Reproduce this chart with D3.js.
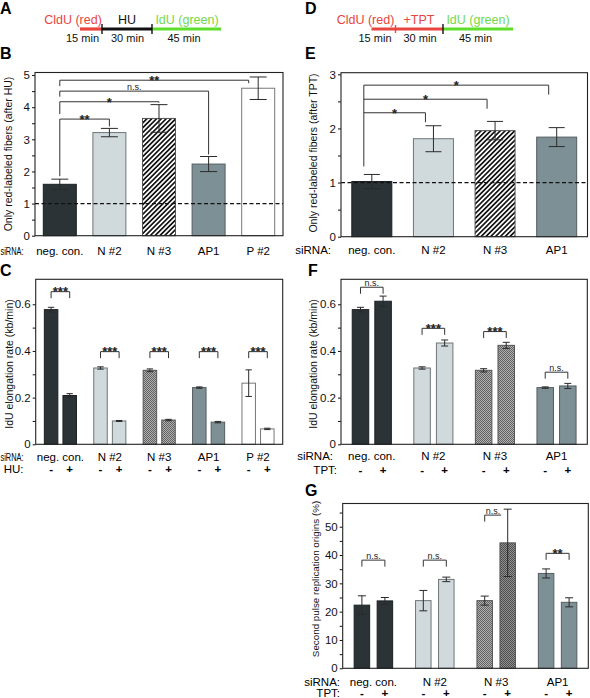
<!DOCTYPE html>
<html><head><meta charset="utf-8">
<script src="https://cdn.jsdelivr.net/npm/d3@7"></script>
<style>body{margin:0;background:#fff} text{font-family:"Liberation Sans",Arial,sans-serif}</style>
</head><body><svg id="c" width="590" height="698"></svg>
<script>
// ---------------- data ----------------
const catsLeft = ["neg. con.","N #2","N #3","AP1","P #2"];
const catsRight = ["neg. con.","N #2","N #3","AP1"];
const treat = ["-","+"];

// B: only red-labeled fibers after HU
const valB = [1.60, 3.21, 3.65, 2.23, 4.59];
const errB = [0.16, 0.13, 0.43, 0.235, 0.35];
const sigB = [
  {to:"N #2", level:3.63, label:"**"},
  {to:"N #3", level:4.17, label:"*"},
  {to:"AP1",  level:4.50, label:"n.s."},
  {to:"P #2", level:4.84, label:"**"}
];
const ticksB = [0,1,2,3,4,5];
const minorB = [0.5,1.5,2.5,3.5,4.5];

// E: only red-labeled fibers after TPT
const valE = [1.02, 1.81, 1.96, 1.84];
const errE = [0.13, 0.24, 0.17, 0.175];
const sigE = [
  {to:"N #2", level:2.29, label:"*"},
  {to:"N #3", level:2.54, label:"*"},
  {to:"AP1",  level:2.80, label:"*"}
];
const ticksE = [0,1,2,3];
const minorE = [0.5,1.5,2.5];

// C: IdU elongation rate, -/+ HU
const minusC = [0.577, 0.327, 0.317, 0.243, 0.262];
const minusErrC = [0.010, 0.005, 0.006, 0.003, 0.057];
const plusC = [0.209, 0.100, 0.104, 0.095, 0.066];
const plusErrC = [0.008, 0.002, 0.003, 0.003, 0.003];
const sigLevelC = [0.654, 0.397, 0.397, 0.397, 0.397];
const sigLabelC = ["***","***","***","***","***"];

// F: IdU elongation rate, -/+ TPT
const minusF = [0.577, 0.327, 0.317, 0.243];
const minusErrF = [0.010, 0.005, 0.007, 0.003];
const plusF = [0.613, 0.434, 0.424, 0.250];
const plusErrF = [0.022, 0.013, 0.013, 0.011];
const sigLevelF = [0.673, 0.497, 0.483, 0.309];
const sigLabelF = ["n.s.","***","***","n.s."];
const ticksRate = [0,0.2,0.4,0.6];
const minorRate = [0.1,0.3,0.5];

// G: second pulse replication origins (%)
const minusG = [22.3, 23.9, 23.9, 33.5];
const minusErrG = [3.3, 3.6, 1.6, 1.6];
const plusG = [23.8, 31.4, 44.3, 23.3];
const plusErrG = [1.2, 0.8, 11.9, 1.6];
const sigLevelG = [38.2, 38.2, 54.1, 40.6];
const sigLabelG = ["n.s.","n.s.","n.s.","**"];
const ticksG = [0,10,20,30,40,50];
const minorG = [5,15,25,35,45,55];

// ---------------- styles ----------------
const FONT = '"Liberation Sans", Arial, sans-serif';
const svg = d3.select("#c");
const defs = svg.append("defs");
const hp = defs.append("pattern").attr("id","hatch").attr("patternUnits","userSpaceOnUse")
  .attr("width",3.4).attr("height",3.4).attr("patternTransform","rotate(45)");
hp.append("rect").attr("width",3.4).attr("height",3.4).attr("fill","#fff");
hp.append("rect").attr("width",1.7).attr("height",3.4).attr("fill","#151515");
function check(id,a,b){
  const p = defs.append("pattern").attr("id",id).attr("patternUnits","userSpaceOnUse").attr("width",2).attr("height",2);
  p.append("rect").attr("width",2).attr("height",2).attr("fill",b);
  p.append("rect").attr("width",1).attr("height",1).attr("fill",a);
  p.append("rect").attr("x",1).attr("y",1).attr("width",1).attr("height",1).attr("fill",a);
}
check("check","#626262","#b0b0b0");
check("checkDark","#4e4e4e","#909090");

const fillSolid = {"neg. con.":"#2b3337","N #2":"#d0dadd","N #3":"url(#hatch)","AP1":"#7d9096","P #2":"#ffffff"};
const strokeCol = {"neg. con.":"#1a1f22","N #2":"#6f7577","N #3":"#555","AP1":"#555d60","P #2":"#777"};
function fillFine(c, t, dark){ if(c==="N #3") return (dark && t==="+") ? "url(#checkDark)" : "url(#check)"; return fillSolid[c]; }

// ---------------- helpers ----------------
function letter(t,x,y){ svg.append("text").attr("x",x).attr("y",y).attr("font-size",16).attr("font-weight","bold").attr("font-family",FONT).text(t); }

function yTitle(t,x,y,fs){
  svg.append("text").attr("transform",`translate(${x},${y}) rotate(-90)`).attr("text-anchor","middle")
    .attr("font-size",fs).attr("font-family",FONT).attr("fill","#111").text(t);
}

function frame(x0,x1,y,ticks,minor,fmt){
  const ax = svg.append("g").attr("transform",`translate(${x0},0)`)
    .call(d3.axisLeft(y).tickValues(ticks).tickSize(3).tickPadding(2).tickFormat(fmt));
  ax.select(".domain").remove();
  ax.attr("font-family",FONT).attr("font-size",11.5).attr("color","#111");
  const mx = svg.append("g").attr("transform",`translate(${x0},0)`)
    .call(d3.axisLeft(y).tickValues(minor).tickSize(3).tickFormat(""));
  mx.select(".domain").remove(); mx.attr("color","#111");
  const [r0,r1] = y.range();
  svg.append("rect").attr("x",x0).attr("y",r1).attr("width",x1-x0).attr("height",r0-r1)
    .attr("fill","none").attr("stroke","#222").attr("stroke-width",1.1);
}

function errBar(x,yS,v,e,cap){
  const g = svg.append("g").attr("stroke","#2a2a2a").attr("stroke-width",1);
  g.append("line").attr("x1",x).attr("x2",x).attr("y1",yS(v+e)).attr("y2",yS(v-e));
  g.append("line").attr("x1",x-cap).attr("x2",x+cap).attr("y1",yS(v+e)).attr("y2",yS(v+e));
  g.append("line").attr("x1",x-cap).attr("x2",x+cap).attr("y1",yS(v-e)).attr("y2",yS(v-e));
}

function sigText(x,y,label){
  const star = label.indexOf("*")>=0;
  svg.append("text").attr("x",x).attr("y", star ? y+4.8 : y-1.5).attr("text-anchor","middle")
    .attr("font-family",FONT).attr("font-size", star?13:9).attr("font-weight", star?"bold":"normal")
    .attr("fill","#222").text(label);
}

function line(x1,y1,x2,y2){
  svg.append("line").attr("x1",x1).attr("y1",y1).attr("x2",x2).attr("y2",y2)
    .attr("stroke","#333").attr("stroke-width",1);
}

function rowLabel(label,x,y){
  const t = svg.append("text").attr("x",x).attr("y",y).attr("text-anchor","end").attr("font-size",11.5)
    .attr("font-family",FONT).text(label);
  const w = t.node().getComputedTextLength();
  if (x - w < 0.5) t.attr("textLength", x-0.5).attr("lengthAdjust","spacingAndGlyphs");
}
function catRow(cats,x,y,label,labelX){
  rowLabel(label,labelX,y);
  svg.append("g").selectAll("text").data(cats).join("text")
    .attr("x",d=>x(d)).attr("y",y).attr("text-anchor","middle").attr("font-size",11.5)
    .attr("font-family",FONT).text(d=>d);
}
function pmRow(cats,x,sub,y,label,labelX){
  rowLabel(label,labelX,y);
  const pairs = cats.flatMap(c=>treat.map(t=>({c,t})));
  svg.append("g").selectAll("text").data(pairs).join("text")
    .attr("x",d=>x(d.c)+sub(d.t)+sub.bandwidth()/2).attr("y",y).attr("text-anchor","middle")
    .attr("font-size",11.5).attr("font-weight","bold").attr("font-family",FONT).text(d=>d.t);
}

// ---------------- headers A / D ----------------
const RED="#e8453e", GREEN="#5ede2a", GREENT="#72d94a";
function header(segs, ticks, labels, times){
  segs.forEach(s=>svg.append("line").attr("x1",s[0]).attr("x2",s[1]).attr("y1",29).attr("y2",29)
    .attr("stroke",s[2]).attr("stroke-width",3.2));
  ticks.forEach(t=>svg.append("line").attr("x1",t[0]).attr("x2",t[0]).attr("y1",t[1]).attr("y2",t[2])
    .attr("stroke",t[3]).attr("stroke-width",1.4));
  labels.forEach(l=>svg.append("text").attr("x",l[0]).attr("y",24).attr("text-anchor","middle")
    .attr("font-size",12.5).attr("font-family",FONT).attr("fill",l[2]).text(l[1]));
  times.forEach(l=>svg.append("text").attr("x",l[0]).attr("y",41.5).attr("text-anchor","middle")
    .attr("font-size",11).attr("font-family",FONT).attr("fill","#111").text(l[1]));
}
letter("A",0,14);
header([[80,102,RED],[102,152,"#111"],[152,221,GREEN]],
  [[102,24,34,"#111"],[152,24,34,"#111"]],
  [[73,"CldU (red)",RED],[127,"HU","#111"],[187,"IdU (green)",GREENT]],
  [[82.5,"15 min"],[127.5,"30 min"],[184,"45 min"]]);
letter("D",305,14);
header([[371.5,443,RED],[443,513,GREEN]],
  [[395.5,25,33,RED],[443,24,34,"#111"]],
  [[365.5,"CldU (red)",RED],[419,"+TPT",RED],[478,"IdU (green)",GREENT]],
  [[375,"15 min"],[420,"30 min"],[475.5,"45 min"]]);

// ---------------- panel B ----------------
letter("B",0,59);
{
  const x = d3.scalePoint().domain(catsLeft).range([35,283]).padding(0.5);
  const y = d3.scaleLinear().domain([0,5.08]).range([235.7,72.5]);
  const bw = 33;
  catsLeft.forEach((c,i)=>{
    svg.append("rect").attr("x",x(c)-bw/2).attr("y",y(valB[i])).attr("width",bw).attr("height",y(0)-y(valB[i]))
      .attr("fill",fillSolid[c]).attr("stroke",strokeCol[c]).attr("stroke-width",1);
  });
  catsLeft.forEach((c,i)=>errBar(x(c),y,valB[i],errB[i],8.5));
  svg.append("line").attr("x1",35).attr("x2",283).attr("y1",y(1)).attr("y2",y(1))
    .attr("stroke","#111").attr("stroke-width",1.3).attr("stroke-dasharray","4,2.5");
  frame(35,283,y,ticksB,minorB,d3.format("d"));
  const xl = x(catsLeft[0]);
  sigB.forEach((s,i)=>{
    const yy = y(s.level);
    const k = catsLeft.indexOf(s.to);
    const top = valB[k]+errB[k];
    let xr = x(s.to), yEnd;
    if (y(top) > yy) { yEnd = y(top)-2; } else { xr = x(s.to)-8.5-1; yEnd = yy+3; }
    line(xl,yy,xr,yy);
    line(xr,yy,xr,yEnd);
    const legEnd = i===0 ? y(valB[0]+errB[0])-3 : y(sigB[i-1].level)-5;
    line(xl,yy,xl,legEnd);
    sigText((xl+xr)/2,yy,s.label);
  });
  yTitle("Only red-labeled fibers (after HU)",11.5,154,10.5);
  catRow(catsLeft,x,254.5,"siRNA:",23.5);
}

// ---------------- panel E ----------------
letter("E",305,59);
{
  const x = d3.scalePoint().domain(catsRight).range([341,587.5]).padding(0.5);
  const y = d3.scaleLinear().domain([0,3.03]).range([236.7,72.7]);
  const bw = 40;
  catsRight.forEach((c,i)=>{
    svg.append("rect").attr("x",x(c)-bw/2).attr("y",y(valE[i])).attr("width",bw).attr("height",y(0)-y(valE[i]))
      .attr("fill",fillSolid[c]).attr("stroke",strokeCol[c]).attr("stroke-width",1);
  });
  catsRight.forEach((c,i)=>errBar(x(c),y,valE[i],errE[i],8));
  svg.append("line").attr("x1",341).attr("x2",587.5).attr("y1",y(1)).attr("y2",y(1))
    .attr("stroke","#111").attr("stroke-width",1.3).attr("stroke-dasharray","4,2.5");
  frame(341,587.5,y,ticksE,minorE,d3.format("d"));
  const xl = x(catsRight[0])-8;
  const topLevel = d3.max(sigE,s=>s.level);
  line(xl,y(topLevel),xl,y(valE[0]+errE[0])-8);
  sigE.forEach(s=>{
    const yy = y(s.level), xr = x(s.to)-8;
    line(xl,yy,xr,yy);
    line(xr,yy,xr,yy+9.5);
    sigText((xl+xr)/2,yy,s.label);
  });
  yTitle("Only red-labeled fibers (after TPT)",316.5,153,10.5);
  catRow(catsRight,x,254,"siRNA:",331);
}

// grouped panels
function grouped(cats,x0,x1,yRange,dom,minus,minusErr,plus,plusErr,levels,labels,off,bw,cap,darkPlus){
  const x = d3.scalePoint().domain(cats).range([x0,x1]).padding(0.5);
  const sub = d3.scaleBand().domain(treat).range([-(off+bw/2), off+bw/2]).paddingInner(1-bw/(2*off)).paddingOuter(0);
  const y = d3.scaleLinear().domain(dom).range(yRange);
  const rows = cats.flatMap((c,i)=>[{c,t:"-",v:minus[i],e:minusErr[i]},{c,t:"+",v:plus[i],e:plusErr[i]}]);
  rows.forEach(r=>{
    svg.append("rect").attr("x",x(r.c)+sub(r.t)).attr("y",y(r.v)).attr("width",sub.bandwidth()).attr("height",y(0)-y(r.v))
      .attr("fill",fillFine(r.c,r.t,darkPlus)).attr("stroke",strokeCol[r.c]).attr("stroke-width",1);
  });
  rows.forEach(r=>errBar(x(r.c)+sub(r.t)+sub.bandwidth()/2,y,r.v,r.e,cap));
  cats.forEach((c,i)=>{
    const yy = y(levels[i]);
    const xa = x(c)+sub("-")+sub.bandwidth()/2;
    let xb = x(c)+sub("+")+sub.bandwidth()/2;
    const topPlus = plus[i]+plusErr[i];
    const clipped = y(topPlus) < yy+6;
    if (clipped) xb = xb-cap-2.5;
    line(xa,yy,xb,yy);
    line(xa,yy,xa,yy+6.5);
    if(!clipped) line(xb,yy,xb,yy+6.5);
    sigText((xa+xb)/2,yy,labels[i]);
  });
  return {x,sub,y};
}

// ---------------- panel C ----------------
letter("C",0,276);
{
  const r = grouped(catsLeft,35.7,282.7,[444.3,279.3],[0,0.707],minusC,minusErrC,plusC,plusErrC,sigLevelC,sigLabelC,9.3,13.5,3.2,false);
  frame(35.7,282.7,r.y,ticksRate,minorRate,d=>d===0?"0":d3.format(".1f")(d));
  yTitle("IdU elongation rate (kb/min)",12.5,364,10.5);
  catRow(catsLeft,r.x,460.5,"siRNA:",23.5);
  pmRow(catsLeft,r.x,r.sub,472.5,"HU:",23.5);
}

// ---------------- panel F ----------------
letter("F",308,276);
{
  const r = grouped(catsRight,341,587.3,[444.3,279.3],[0,0.707],minusF,minusErrF,plusF,plusErrF,sigLevelF,sigLabelF,11.3,16.5,3.5,false);
  frame(341,587.3,r.y,ticksRate,minorRate,d=>d===0?"0":d3.format(".1f")(d));
  yTitle("IdU elongation rate (kb/min)",316.5,364,10.5);
  catRow(catsRight,r.x,460,"siRNA:",333);
  pmRow(catsRight,r.x,r.sub,473.5,"TPT:",337);
}

// ---------------- panel G ----------------
letter("G",305,496);
{
  const r = grouped(catsRight,342.7,588.3,[668.3,503.5],[0,58.2],minusG,minusErrG,plusG,plusErrG,sigLevelG,sigLabelG,11.5,15.5,4,true);
  frame(342.7,588.3,r.y,ticksG,minorG,d3.format("d"));
  yTitle("Second pulse replication origins (%)",318.5,579,9.8);
  catRow(catsRight,r.x,686,"siRNA:",340);
  pmRow(catsRight,r.x,r.sub,697,"TPT:",340);
}
</script></body></html>
